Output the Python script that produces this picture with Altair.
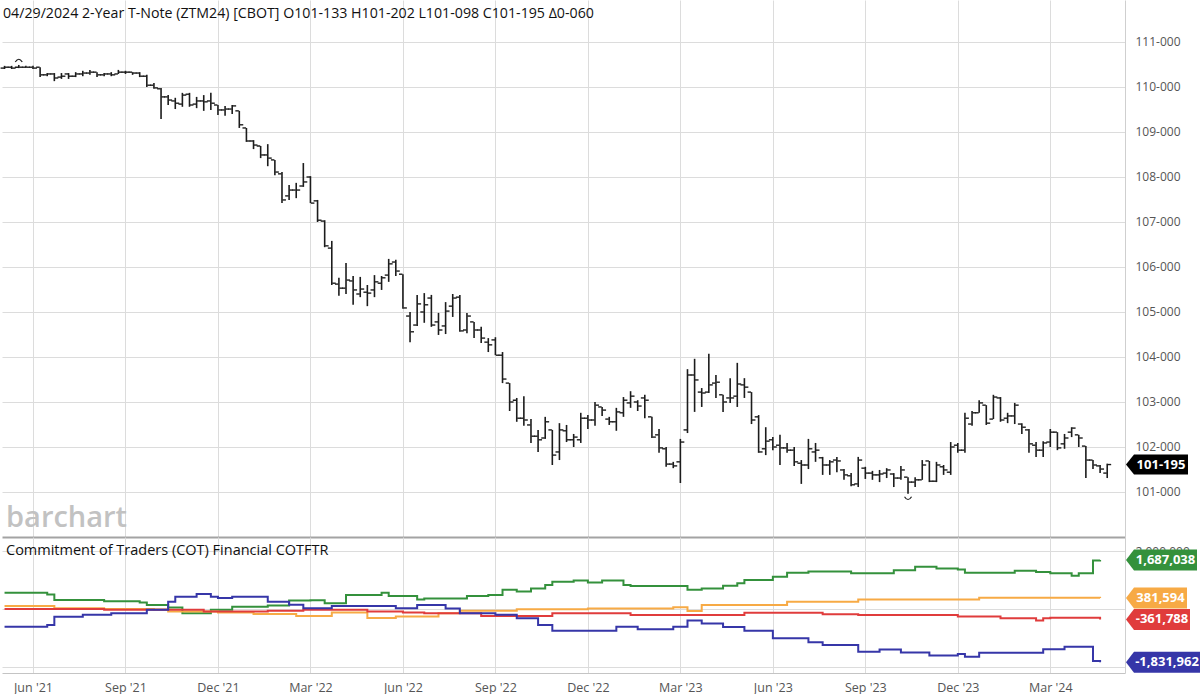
import altair as alt
import pandas as pd

# ---------------- data ----------------
weeks = pd.date_range("2021-05-10", periods=156, freq="7D")
dates = [d.strftime("%Y-%m-%d") for d in weeks]

opens = [110.42,110.44,110.44,110.44,110.44,110.44,110.27,110.29,110.22,110.29,
         110.24,110.29,110.31,110.33,110.27,110.29,110.29,110.33,110.33,110.31,
         110.24,110.04,109.96,109.78,109.69,109.62,109.84,109.62,109.69,109.69,
         109.60,109.49,109.51,109.47,109.09,108.80,108.69,108.49,108.38,108.07,
         107.58,107.71,107.80,108.00,107.47,107.02,106.42,105.62,105.53,105.69,
         105.40,105.44,105.49,105.64,105.82,106.11,105.84,104.91,104.71,105.00,
         105.31,104.78,104.69,105.13,105.33,104.60,104.78,104.60,104.33,104.38,
         104.04,103.42,103.04,102.64,102.49,102.24,102.20,102.38,101.89,102.36,
         102.16,102.16,102.64,102.60,102.89,102.62,102.56,102.76,102.98,103.00,
         103.09,102.67,102.27,101.96,101.62,101.67,102.38,103.60,103.22,103.22,
         103.42,103.16,103.09,103.13,103.38,103.22,102.67,101.96,102.16,102.04,
         101.98,101.93,101.64,101.60,101.89,101.76,101.60,101.71,101.49,101.36,
         101.18,101.53,101.42,101.38,101.42,101.40,101.31,101.33,101.22,101.27,
         101.69,101.24,101.56,101.44,102.04,101.93,102.51,102.76,102.93,102.62,
         103.09,102.64,102.69,102.51,102.38,102.04,101.93,102.11,102.33,102.07,
         102.33,102.27,102.02,101.71,101.58,101.42]
highs = [110.47,110.47,110.49,110.47,110.47,110.44,110.31,110.31,110.31,110.31,
         110.33,110.36,110.38,110.33,110.31,110.33,110.38,110.36,110.33,110.33,
         110.27,110.09,109.98,109.82,109.76,109.87,109.87,109.78,109.82,109.87,
         109.60,109.58,109.60,109.47,109.09,108.82,108.69,108.73,108.38,108.11,
         107.82,107.87,108.31,108.02,107.49,107.04,106.58,105.76,106.09,105.80,
         105.78,105.60,105.82,105.80,106.18,106.16,105.84,105.00,105.38,105.42,
         105.38,104.98,105.22,105.40,105.38,104.98,104.78,104.67,104.42,104.44,
         104.11,103.42,103.09,103.13,102.62,102.38,102.67,102.38,102.53,102.49,
         102.29,102.76,102.71,103.00,102.89,102.67,102.87,103.11,103.24,103.04,
         103.16,102.67,102.40,102.00,101.67,102.18,103.73,103.96,103.31,104.07,
         103.60,103.16,103.53,103.87,103.53,103.22,102.71,102.44,102.22,102.27,
         102.09,102.00,101.71,102.18,102.09,101.78,101.71,101.78,101.51,101.42,
         101.78,101.56,101.47,101.49,101.53,101.42,101.58,101.33,101.33,101.71,
         101.69,101.67,101.60,102.11,102.09,102.76,102.80,103.04,102.93,103.16,
         103.11,102.76,102.98,102.53,102.40,102.11,102.13,102.40,102.33,102.29,
         102.44,102.27,102.02,101.71,101.60,101.63]
lows = [110.40,110.40,110.42,110.42,110.40,110.22,110.24,110.13,110.18,110.18,
        110.22,110.24,110.27,110.22,110.24,110.24,110.29,110.29,110.27,110.22,
        110.00,109.96,109.29,109.60,109.51,109.56,109.56,109.53,109.47,109.49,
        109.38,109.36,109.40,109.09,108.78,108.62,108.42,108.24,108.04,107.42,
        107.49,107.53,107.78,107.42,107.00,106.44,105.60,105.36,105.40,105.16,
        105.33,105.13,105.33,105.49,105.67,105.80,105.07,104.33,104.69,104.76,
        104.67,104.49,104.51,104.89,104.56,104.53,104.42,104.31,104.11,104.04,
        103.42,102.80,102.56,102.47,102.09,101.89,102.18,101.60,101.71,102.11,
        102.00,102.09,102.40,102.47,102.69,102.49,102.36,102.67,102.87,102.80,
        102.64,102.20,101.87,101.56,101.53,101.20,102.31,102.78,102.89,103.20,
        103.09,102.78,102.98,102.89,103.09,102.51,101.87,101.82,101.93,101.60,
        101.87,101.58,101.18,101.51,101.67,101.38,101.38,101.44,101.27,101.13,
        101.11,101.29,101.27,101.22,101.31,101.11,101.27,100.96,101.11,101.27,
        101.22,101.22,101.38,101.38,101.87,101.87,102.47,102.76,102.49,102.62,
        102.56,102.53,102.51,102.29,101.87,101.78,101.78,102.00,101.93,101.96,
        102.22,102.00,101.31,101.51,101.42,101.31]
closes = [110.44,110.42,110.44,110.44,110.42,110.27,110.29,110.20,110.24,110.24,
          110.29,110.31,110.33,110.27,110.29,110.27,110.33,110.33,110.31,110.24,
          110.04,109.98,109.78,109.71,109.64,109.82,109.60,109.69,109.67,109.64,
          109.49,109.51,109.58,109.16,108.80,108.71,108.49,108.42,108.11,107.49,
          107.71,107.71,107.89,107.42,107.04,106.47,105.64,105.53,105.71,105.49,
          105.51,105.42,105.67,105.76,106.07,105.91,105.09,104.56,105.18,105.16,
          104.71,104.60,105.02,105.31,104.58,104.91,104.60,104.42,104.27,104.04,
          103.51,103.00,102.64,102.60,102.24,102.16,102.56,101.82,102.38,102.16,
          102.22,102.64,102.60,102.93,102.82,102.56,102.78,103.04,103.13,102.91,
          103.04,102.22,101.98,101.62,101.58,102.11,103.60,103.49,103.20,103.38,
          103.44,103.00,103.09,103.40,103.33,102.60,101.89,102.13,102.00,101.98,
          101.93,101.67,101.60,101.96,101.93,101.60,101.67,101.69,101.38,101.16,
          101.71,101.42,101.38,101.40,101.49,101.31,101.49,101.22,101.27,101.60,
          101.24,101.60,101.49,102.00,101.93,102.64,102.76,102.98,102.53,103.11,
          102.60,102.69,102.93,102.44,102.07,101.93,102.09,102.33,101.98,102.20,
          102.42,102.20,101.71,101.60,101.51,101.61]

# COT net positions (step series: week index where the level changes, level)
green_weeks = [0,6,7,14,19,20,23,25,29,32,37,40,43,45,48,53,54,56,58,59,65,68,70,72,74,76,77,
               80,82,84,87,88,96,98,101,103,104,108,110,113,119,125,128,131,134,135,142,145,147,
               150,151,153,154]
green_vals = [560000,500000,310000,270000,220000,140000,50000,-150000,-30000,80000,120000,290000,
              300000,200000,480000,560000,450000,450000,330000,360000,450000,480000,660000,600000,
              710000,830000,940000,980000,910000,980000,830000,790000,660000,710000,800000,890000,
              1000000,1110000,1250000,1290000,1230000,1340000,1460000,1400000,1360000,1250000,
              1320000,1280000,1230000,1150000,1230000,1670000,1687038]
orange_weeks = [0,7,14,21,23,30,35,41,46,51,55,61,64,72,82,94,96,98,110,120,137,154]
orange_vals = [100000,30000,0,-20000,-90000,-120000,-170000,-240000,-120000,-310000,-260000,
               -150000,-60000,-10000,20000,60000,-70000,140000,250000,330000,390000,381594]
red_weeks = [0,14,28,37,42,51,56,59,67,77,88,104,115,120,134,140,145,146,147,154]
red_vals = [0,-30000,-90000,-60000,-30000,-90000,-120000,-150000,-240000,-150000,-210000,
            -130000,-180000,-210000,-260000,-320000,-400000,-320000,-300000,-361788]
blue_weeks = [0,6,7,11,15,20,23,24,27,29,30,32,37,40,42,46,54,55,58,62,64,69,72,75,77,86,89,
              94,96,98,101,104,108,113,115,120,123,126,130,134,135,137,146,149,153,154]
blue_vals = [-610000,-550000,-270000,-200000,-150000,-30000,250000,420000,520000,420000,380000,
             420000,250000,150000,30000,100000,100000,30000,140000,20000,-150000,-200000,-320000,
             -550000,-750000,-610000,-700000,-610000,-400000,-500000,-620000,-750000,-1010000,
             -1150000,-1240000,-1470000,-1400000,-1500000,-1600000,-1550000,-1650000,-1510000,
             -1390000,-1300000,-1790000,-1831962]

series_names = ["Green", "Orange", "Red", "Blue"]
series_colors = ["#34913c", "#f7aa45", "#e03c3c", "#3636a8"]
series_labels = ["1,687,038", "381,594", "-361,788", "-1,831,962"]

header = "04/29/2024 2-Year T-Note (ZTM24) [CBOT] O101-133 H101-202 L101-098 C101-195 \u03940-060"
cot_title = "Commitment of Traders (COT) Financial COTFTR"
price_tag_text = "101-195"

quarter_dates = [(2021, 6, 7), (2021, 9, 6), (2021, 12, 6), (2022, 3, 7), (2022, 6, 6),
                 (2022, 9, 5), (2022, 12, 5), (2023, 3, 6), (2023, 6, 5), (2023, 9, 4),
                 (2023, 12, 4), (2024, 3, 4)]
price_ticks = list(range(101, 112))
cot_ticks = [-2000000, 0, 2000000]

# ---------------- layout / style ----------------
W, HT, HB = 1123, 537, 136
GRID = "#dcdcdc"
LABEL = "#555555"
FONT = "Open Sans"
BAR = "#1c1c1c"

qvals = [alt.DateTime(year=y, month=m, date=d, utc=True) for y, m, d in quarter_dates]
xscale = alt.Scale(type="utc", domain=[alt.DateTime(year=2021, month=5, date=7, hours=12, utc=True),
                                       alt.DateTime(year=2024, month=5, date=16, hours=12, utc=True)])
pscale = alt.Scale(domain=[100, 111.9333], nice=False, zero=False)
cscale = alt.Scale(domain=[-2206897, 2482759], nice=False, zero=False)

top_x_axis = alt.Axis(values=qvals, labels=False, ticks=False, title=None, grid=True,
                      gridColor=GRID, domain=True, domainColor="#a3a3a3", domainWidth=2,
                      minExtent=0, maxExtent=0)
bot_x_axis = alt.Axis(values=qvals, labelExpr="utcFormat(datum.value, \"%b '%y\")", ticks=False,
                      title=None, grid=True, gridColor=GRID, domainColor="#c4c4c4",
                      labelColor=LABEL, labelFontSize=12.5, labelPadding=8, labelFont=FONT)
p_axis = alt.Axis(orient="right", values=price_ticks, labelExpr="format(datum.value, 'd') + '-000'",
                  ticks=False, title=None, grid=True, gridColor=GRID, domainColor="#cfcfcf",
                  labelColor=LABEL, labelFontSize=12, labelPadding=10, labelFont=FONT)
# only the top COT label peeks out from behind the value tags in the reference
c_axis = alt.Axis(orient="right", values=cot_ticks,
                  labelExpr="datum.value > 0 ? format(datum.value, ',d') : ''",
                  ticks=False, title=None, grid=True, gridColor=GRID, domainColor="#cfcfcf",
                  labelColor=LABEL, labelFontSize=12, labelPadding=10, labelFont=FONT)


def XT():
    return alt.X("date:T", scale=xscale, axis=top_x_axis)


def XB():
    return alt.X("date:T", scale=xscale, axis=bot_x_axis)


def YP(field):
    return alt.Y(f"{field}:Q", scale=pscale, axis=p_axis)


def YC(field):
    return alt.Y(f"{field}:Q", scale=cscale, axis=c_axis)


def tag_path(w, h=21, a=8):
    hh = h / w
    aa = 2 * a / w
    return (f"M -1 0 L {-1 + aa:.4f} {-hh:.4f} L 1 {-hh:.4f} L 1 {hh:.4f} "
            f"L {-1 + aa:.4f} {hh:.4f} Z")


def make_tag(df, yenc, w, color, text, h=21, tip=1124):
    body = alt.Chart(df).mark_point(shape=tag_path(w, h), size=w * w, filled=True,
                                    color=color, opacity=1, strokeWidth=0).encode(
        x=alt.value(tip + w / 2), y=yenc)
    label = alt.Chart(df).mark_text(fontSize=13, fontWeight="bold", color="white",
                                    align="center", baseline="middle", font=FONT).encode(
        x=alt.value(tip + 8 + (w - 8) / 2), y=yenc, text=alt.value(text))
    return [body, label]


# ---------------- price panel ----------------
price_df = pd.DataFrame({"date": dates, "open": opens, "high": highs, "low": lows, "close": closes})

hl = alt.Chart(price_df).mark_rule(color=BAR, strokeWidth=1.6).encode(
    x=XT(), y=YP("low"), y2="high:Q")
op = alt.Chart(price_df).mark_tick(orient="horizontal", size=3.5, thickness=1.4, xOffset=-2.2,
                                   color=BAR, opacity=1).encode(x=XT(), y=YP("open"))
cl = alt.Chart(price_df).mark_tick(orient="horizontal", size=3.5, thickness=1.4, xOffset=2.2,
                                   color=BAR, opacity=1).encode(x=XT(), y=YP("close"))

hi_row = price_df.loc[[price_df["high"].idxmax()]]
lo_row = price_df.loc[[price_df["low"].idxmin()]]
caret_hi = alt.Chart(hi_row).mark_point(shape="M -1 0.6 Q 0 -1 1 0.6", size=49, filled=False,
                                        color=BAR, strokeWidth=1.2, opacity=1, yOffset=-5).encode(
    x=XT(), y=YP("high"))
caret_lo = alt.Chart(lo_row).mark_point(shape="M -1 -0.6 Q 0 1 1 -0.6", size=49, filled=False,
                                        color=BAR, strokeWidth=1.2, opacity=1, yOffset=5).encode(
    x=XT(), y=YP("low"))

hdr = alt.Chart(pd.DataFrame({"t": [header]})).mark_text(
    align="left", baseline="middle", fontSize=14.2, color="#111111", font=FONT).encode(
    x=alt.value(1), y=alt.value(14), text="t:N")
wm = alt.Chart(pd.DataFrame({"t": ["barchart"]})).mark_text(
    align="left", baseline="alphabetic", fontSize=29, fontWeight=600, color="#c2c2c2",
    font=FONT).encode(x=alt.value(4), y=alt.value(527), text="t:N")

last_price = price_df.tail(1)
ptag = make_tag(last_price, YP("close"), 62, "#000000", price_tag_text, h=20)

top = alt.layer(hl, op, cl, caret_hi, caret_lo, hdr, wm, *ptag).properties(width=W, height=HT)

# ---------------- COT panel ----------------
rows = []
for name, wk, vals in [("Green", green_weeks, green_vals), ("Orange", orange_weeks, orange_vals),
                       ("Red", red_weeks, red_vals), ("Blue", blue_weeks, blue_vals)]:
    for i, v in zip(wk, vals):
        rows.append({"date": dates[i], "value": v, "series": name})
cot_df = pd.DataFrame(rows)

lines = alt.Chart(cot_df).mark_line(interpolate="step-after", strokeWidth=2).encode(
    x=XB(), y=YC("value"),
    color=alt.Color("series:N", scale=alt.Scale(domain=series_names, range=series_colors), legend=None))

ctitle = alt.Chart(pd.DataFrame({"t": [cot_title]})).mark_text(
    align="left", baseline="middle", fontSize=14.5, color="#111111", font=FONT).encode(
    x=alt.value(4), y=alt.value(14), text="t:N")

tag_widths = [71, 61, 64, 74]
ctags = []
for name, col, lab, w, vals in zip(series_names, series_colors, series_labels, tag_widths,
                                   [green_vals, orange_vals, red_vals, blue_vals]):
    d = pd.DataFrame({"value": [vals[-1]]})
    ctags += make_tag(d, YC("value"), w, col, lab, h=21)

bottom = alt.layer(lines, ctitle, *ctags).properties(width=W, height=HB)

chart = alt.vconcat(top, bottom, spacing=0).configure(font=FONT).configure_view(
    strokeWidth=0).properties(padding={"left": 0, "top": 0, "right": 0, "bottom": 0},
                              background="white")

chart.save("out.html", embed_options={"renderer": "svg", "actions": False})
